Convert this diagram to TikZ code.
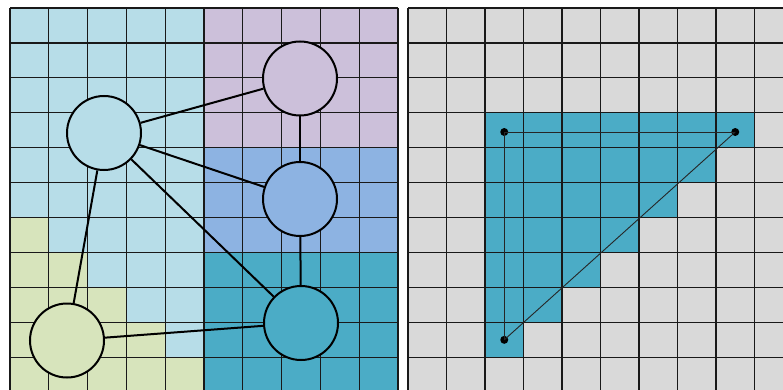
\documentclass[tikz,border=0pt]{standalone}
\definecolor{lblue}{HTML}{B7DDE8}
\definecolor{lpurple}{HTML}{CCC0DA}
\definecolor{mblue}{HTML}{8DB3E2}
\definecolor{cteal}{HTML}{4BACC6}
\definecolor{lgreen}{HTML}{D7E4BC}
\definecolor{lgray}{HTML}{D9D9D9}
\begin{document}
\begin{tikzpicture}[x=1pt,y=-1pt,
  gridline/.style={draw=black!90,line width=1.2pt},
  bubble/.style={circle,draw=black,line width=2pt,minimum size=74pt,inner sep=0pt},
  edge/.style={draw=black,line width=2pt},
  dot/.style={circle,fill=black,minimum size=8pt,inner sep=0pt},
  thinedge/.style={draw=black!85,line width=0.9pt}]
\useasboundingbox (0,0) rectangle (783,390);
\clip (0,0) rectangle (783,390);
% ---------- left panel ----------
\begin{scope}[shift={(10,8)},x=38.8pt,y=-34.93pt]
  \fill[lblue] (0,0) rectangle (5,11);
  \fill[lpurple] (5,0) rectangle (10,4);
  \fill[mblue] (5,4) rectangle (10,7);
  \fill[cteal] (5,7) rectangle (10,11);
  \fill[lgreen] (0,6) -- (1,6) -- (1,7) -- (2,7) -- (2,8) -- (3,8) -- (3,9)
     -- (4,9) -- (4,10) -- (5,10) -- (5,11) -- (0,11) -- cycle;
  \foreach \i in {0,...,10} \draw[gridline] (\i,0) -- (\i,11);
  \foreach \j in {0,...,11} \draw[gridline] (0,\j) -- (10,\j);
\end{scope}
\node[bubble,fill=lblue] (A) at (104,133) {};
\node[bubble,fill=lpurple] (B) at (300,78.5) {};
\node[bubble,fill=mblue] (C) at (300,199) {};
\node[bubble,fill=cteal] (D) at (301,323) {};
\node[bubble,fill=lgreen] (E) at (67,340.5) {};
\draw[edge] (A) -- (B);
\draw[edge] (A) -- (C);
\draw[edge] (A) -- (D);
\draw[edge] (A) -- (E);
\draw[edge] (B) -- (C);
\draw[edge] (C) -- (D);
\draw[edge] (D) -- (E);
% ---------- right panel ----------
\begin{scope}[shift={(408,8)},x=38.5pt,y=-34.93pt]
  \fill[lgray] (0,0) rectangle (10,11);
  \foreach \r in {3,...,9} \fill[cteal] (2,\r) rectangle ({12-\r},\r+1);
  \foreach \i in {0,...,10} \draw[gridline] (\i,0) -- (\i,11);
  \foreach \j in {0,...,11} \draw[gridline] (0,\j) -- (10,\j);
  \node[dot] (P) at (2.5,3.55) {};
  \node[dot] (Q) at (8.5,3.55) {};
  \node[dot] (R) at (2.5,9.5) {};
  \draw[thinedge] (P.center) -- (Q.center);
  \draw[thinedge] (P.center) -- (R.center);
  \draw[thinedge] (R.center) -- (Q.center);
\end{scope}
\end{tikzpicture}
\end{document}
